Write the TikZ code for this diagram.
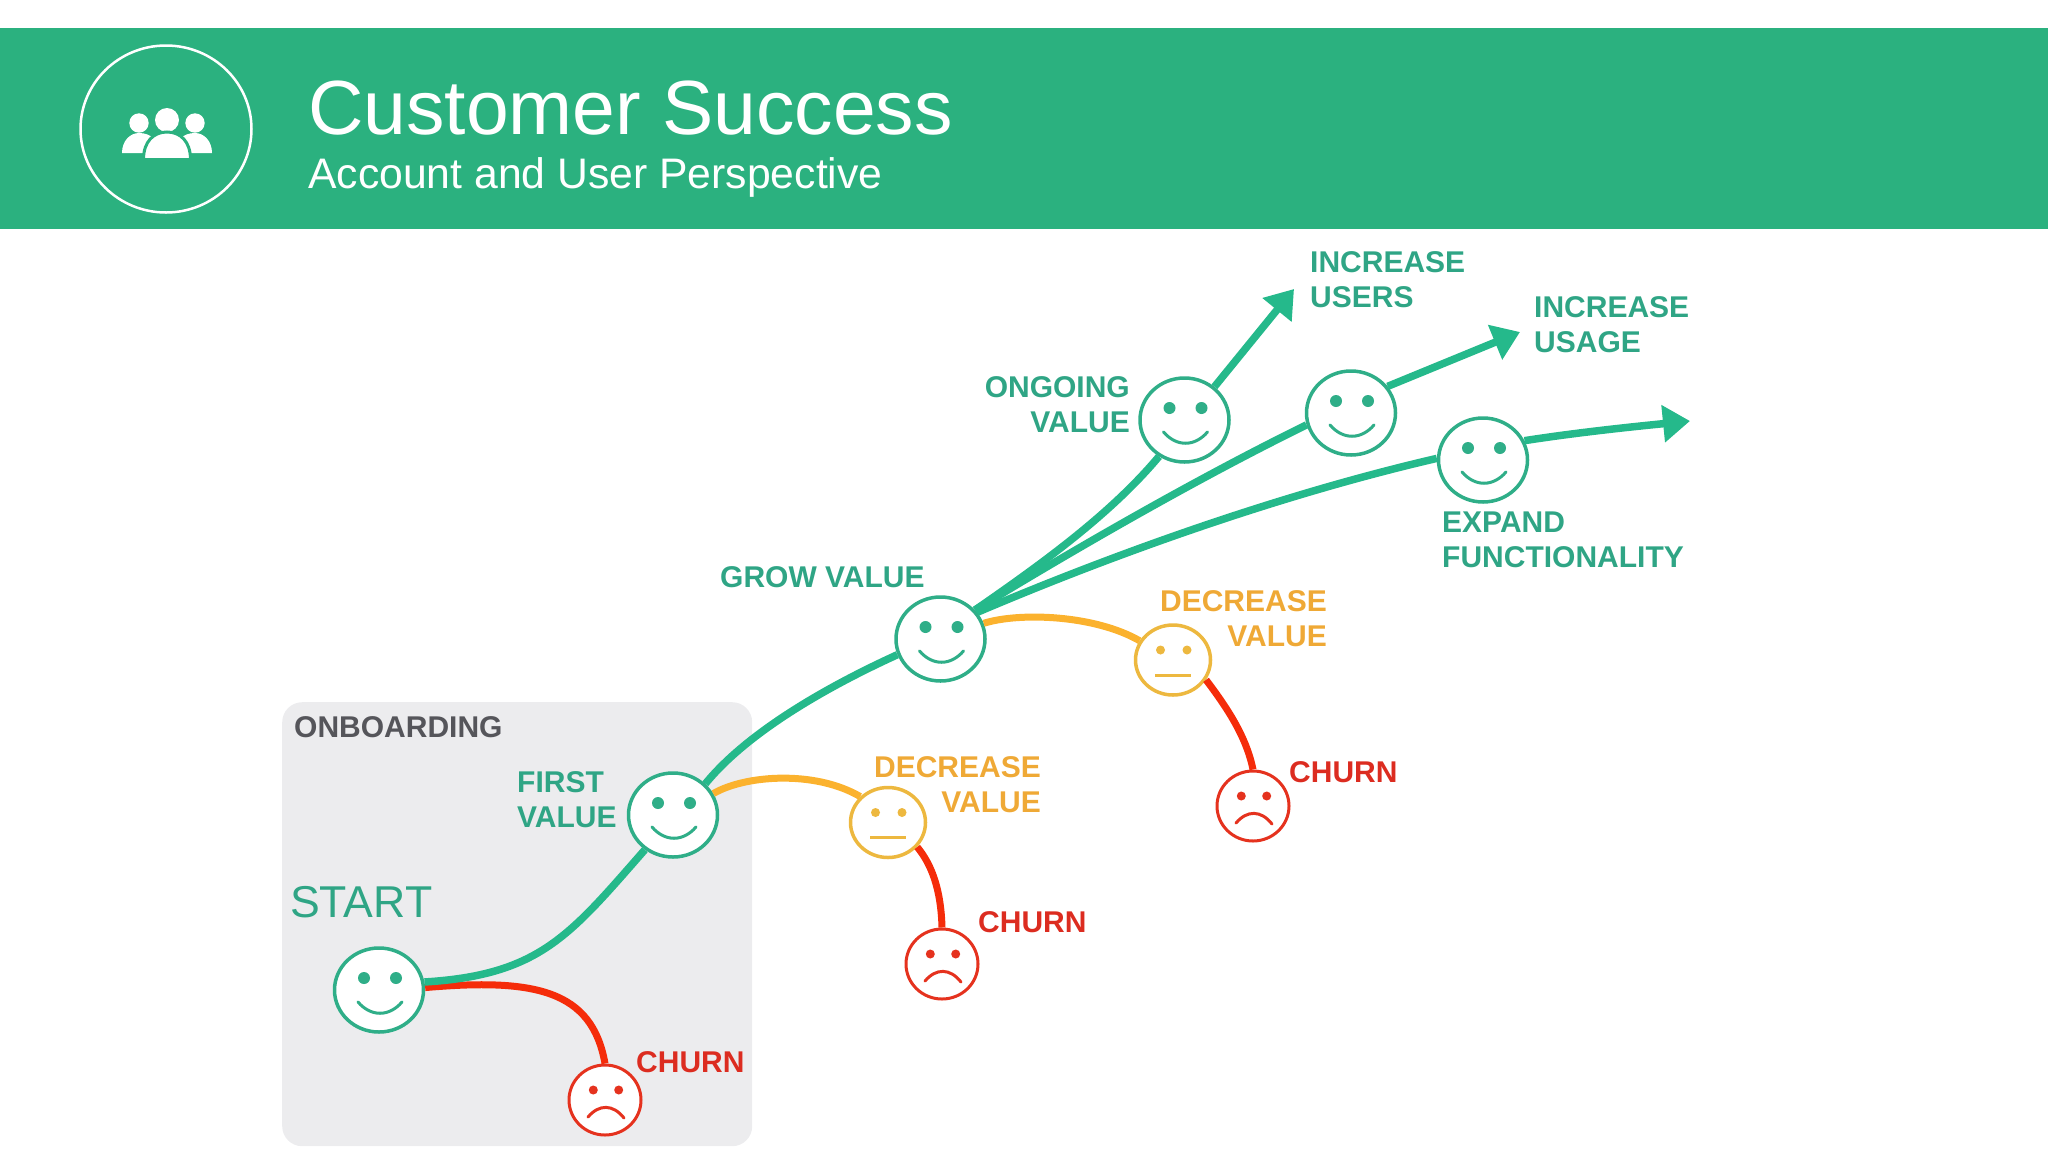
\documentclass[tikz,border=0pt]{standalone}
\usepackage{fontspec}
\setmainfont{Liberation Sans}
\usepackage{xcolor}
\usetikzlibrary{arrows.meta, shapes}

\definecolor{banner}{HTML}{2BB17F}
\definecolor{boxgrey}{HTML}{ECECEE}
\definecolor{boxtext}{HTML}{55555A}
\definecolor{facegreen}{HTML}{2FAE88}
\definecolor{linegreen}{HTML}{25B98B}
\definecolor{textgreen}{HTML}{2FA585}
\definecolor{faceyellow}{HTML}{EDB83F}
\definecolor{lineyellow}{HTML}{FBB22E}
\definecolor{textyellow}{HTML}{EFA936}
\definecolor{facered}{HTML}{E5321E}
\definecolor{linered}{HTML}{F52C0A}
\definecolor{textred}{HTML}{DC2C20}

\begin{document}
\begin{tikzpicture}[x=1pt, y=-1pt, >=latex]
		\tikzstyle{face} = [ellipse, fill=white, line width=3.5pt, inner sep=0pt, minimum width=89pt, minimum height=84pt]
		\tikzstyle{faceg} = [face, draw=facegreen]
		\tikzstyle{facey} = [face, draw=faceyellow, minimum width=75pt, minimum height=70pt]
		\tikzstyle{facer} = [face, draw=facered, line width=3pt, minimum width=72pt, minimum height=70pt]
		\tikzstyle{label} = [inner sep=0pt, font=\fontsize{30}{35}\selectfont\bfseries]
		\tikzstyle{labelg} = [label, text=textgreen, anchor=base west, align=left]
		\tikzstyle{labelge} = [label, text=textgreen, anchor=base east, align=right]
		\tikzstyle{labely} = [label, text=textyellow, anchor=base east, align=right]
		\tikzstyle{labelr} = [label, text=textred, anchor=base west]
		\tikzstyle{arrowg} = [line width=7.5pt, draw=linegreen]
		\tikzstyle{arrowy} = [line width=7pt, draw=lineyellow]
		\tikzstyle{arrowr} = [line width=7pt, draw=linered]
		\tikzstyle{tip} = [-{Triangle[length=27pt,width=36pt]}]
		\tikzset{
			pics/smile/.style={code={
				\fill[#1] (-15,-12) circle (6) (17,-12) circle (6);
				\draw[#1, line width=3pt, line cap=round] (-21,12) .. controls (-8,27) and (10,27) .. (23,12);
			}},
			pics/flat/.style={code={
				\fill[#1] (-12.5,-10) circle (4.5) (14,-10) circle (4.5);
				\draw[#1, line width=3pt] (-18,15) -- (18,15);
			}},
			pics/frown/.style={code={
				\fill[#1] (-11.7,-10) circle (4.5) (13.7,-10) circle (4.5);
				\draw[#1, line width=3pt, line cap=round] (-17,17) .. controls (-6,4) and (8,4) .. (19,18);
			}}
		}
		
		\useasboundingbox (0,0) rectangle (2048,1152);
		
		\node[fill=banner, inner sep=0pt, minimum width=2048pt, minimum height=201pt, anchor=north west] at (0,28) (q20) {};
		\node[ellipse, draw=white, line width=2.5pt, minimum width=171pt, minimum height=167pt, inner sep=0pt] at (166,129) (q21) {};
		\node[anchor=base west, inner sep=0pt, text=white, font=\fontsize{76.8}{80}\selectfont] at (308,134) (q22) {Customer Success};
		\node[anchor=base west, inner sep=0pt, text=white, font=\fontsize{42.7}{46}\selectfont] at (308,188) (q23) {Account and User Perspective};
		
		\fill[white] (167,120) circle (12) (139,123) circle (9.7) (195,123) circle (9.7);
		\fill[white] (122,153) .. controls (122,141) and (130,133) .. (139,133) .. controls (145,133) and (150,135) .. (153,138) -- (153,153) -- cycle;
		\fill[white] (212,153) .. controls (212,141) and (204,133) .. (195,133) .. controls (189,133) and (184,135) .. (181,138) -- (181,153) -- cycle;
		\filldraw[fill=white, draw=banner, line width=3pt] (143.5,159.5) .. controls (143.5,141) and (154,132) .. (167,132) .. controls (180,132) and (190.5,141) .. (190.5,159.5) -- cycle;
		
		\node[fill=boxgrey, rounded corners=20pt, inner sep=0pt, minimum width=470pt, minimum height=444pt, anchor=north west] at (282,702) (q24) {};
		
		\node[faceg]	at (379, 990)	(q0)	{};
		\node[faceg]	at (673, 815)	(q1)	{};
		\node[faceg]	at (940.5, 639)	(q2)	{};
		\node[faceg]	at (1184.5, 420)	(q3)	{};
		\node[faceg]	at (1351, 413)	(q4)	{};
		\node[faceg]	at (1483, 460)	(q5)	{};
		\node[facey]	at (888, 822.5)	(q6)	{};
		\node[facey]	at (1173, 660)	(q7)	{};
		\node[facer]	at (605, 1100)	(q8)	{};
		\node[facer]	at (942, 964)	(q9)	{};
		\node[facer]	at (1253, 806)	(q10)	{};
		
		\coordinate (q11) at (1294, 289);
		\coordinate (q12) at (1520, 332);
		\coordinate (q13) at (1690, 421);
		
		\pic at (q0) {smile=facegreen};
		\pic at (q1) {smile=facegreen};
		\pic at (q2) {smile=facegreen};
		\pic at (q3) {smile=facegreen};
		\pic at (q4) {smile=facegreen};
		\pic at (q5) {smile=facegreen};
		\pic at (q6) {flat=faceyellow};
		\pic at (q7) {flat=faceyellow};
		\pic at (q8) {frown=facered};
		\pic at (q9) {frown=facered};
		\pic at (q10) {frown=facered};
		
		\node[label, text=boxtext, anchor=base west]	at (294, 737)	(l0)	{ONBOARDING};
		\node[inner sep=0pt, text=textgreen, anchor=base west, font=\fontsize{44.6}{46}\selectfont]	at (290, 917)	(l1)	{START};
		\node[labelg]	at (517, 827)	(l2)	{FIRST\\VALUE};
		\node[labelg]	at (720, 587)	(l3)	{GROW VALUE};
		\node[labelge]	at (1130, 432)	(l4)	{ONGOING\\VALUE};
		\node[labelg]	at (1310, 307)	(l5)	{INCREASE\\USERS};
		\node[labelg]	at (1534, 352)	(l6)	{INCREASE\\USAGE};
		\node[labelg]	at (1442, 567)	(l7)	{EXPAND\\FUNCTIONALITY};
		\node[labely]	at (1041, 812)	(l8)	{DECREASE\\VALUE};
		\node[labely]	at (1327, 646)	(l9)	{DECREASE\\VALUE};
		\node[labelr]	at (636, 1072)	(l10)	{CHURN};
		\node[labelr]	at (978, 932)	(l11)	{CHURN};
		\node[labelr]	at (1289, 782)	(l12)	{CHURN};
		
		\draw [arrowr] (q0.3)  .. controls (535,978) and (592,990) .. (q8.north);
		\draw [arrowg] (q0.10) .. controls (540,975) and (570,935) .. (q1.231);
		\draw [arrowg] (q1.44) .. controls (745,735) and (820,690) .. (q2.200);
		\draw [arrowy] (q1.28) .. controls (745,775) and (815,770) .. (q6.137);
		\draw [arrowr] (q6.-40) .. controls (932,865) and (941,890) .. (q9.north);
		\draw [arrowy] (q2.20) .. controls (1020,612) and (1095,615) .. (q7.150);
		\draw [arrowr] (q7.-31) .. controls (1225,705) and (1246,735) .. (q10.north);
		\draw [arrowg] (q2.40) .. controls (1040,565) and (1110,515) .. (q3.235);
		\draw [arrowg] (q2.40) .. controls (1060,558) and (1190,482) .. (q4.195);
		\draw [arrowg] (q2.36) .. controls (1100,560) and (1270,497) .. (q5.178);
		
		\draw [arrowg, tip] (q3.48) -- (q11);
		\draw [arrowg, tip] (q4.36) -- (q12);
		\draw [arrowg, tip] (q5.25) .. controls (1580,432) and (1640,426) .. (q13);
		
	\end{tikzpicture}
\end{document}
